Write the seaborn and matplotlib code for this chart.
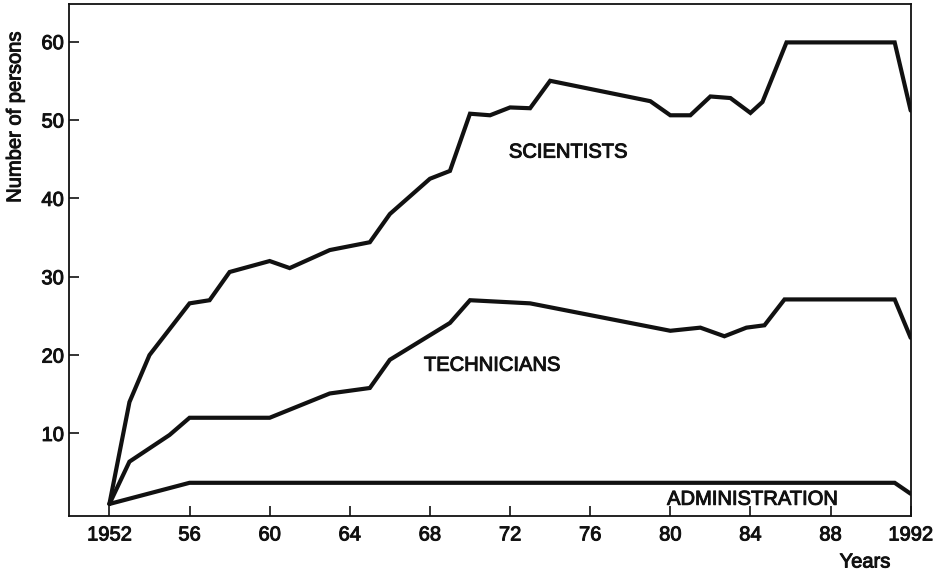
import pandas as pd
import matplotlib
matplotlib.use("Agg")
from matplotlib import pyplot as plt
from matplotlib import patheffects as pe
import seaborn as sns

# --- data ---
sci_years = [1952, 1953, 1954, 1956, 1957, 1958, 1960, 1961, 1963, 1965, 1966, 1968, 1969,
             1970, 1971, 1972, 1973, 1974, 1979, 1980, 1981, 1982, 1983, 1984, 1984.6, 1985.8,
             1991.2, 1992]
sci_values = [1, 14, 20, 26.6, 27, 30.6, 32, 31.1, 33.4, 34.4, 38, 42.5, 43.5,
              50.8, 50.6, 51.6, 51.5, 55, 52.4, 50.6, 50.6, 53, 52.8, 50.9, 52.3, 59.9,
              59.9, 51.2]

tech_years = [1952, 1953, 1955, 1956, 1960, 1963, 1965, 1966, 1969, 1970, 1973, 1980,
              1981.5, 1982.7, 1983.8, 1984.7, 1985.7, 1991.2, 1992]
tech_values = [1, 6.4, 9.8, 12, 12, 15.1, 15.8, 19.4, 24.1, 27, 26.6, 23.1,
               23.5, 22.4, 23.5, 23.8, 27.1, 27.1, 22.2]

adm_years = [1952, 1956, 1991.2, 1992]
adm_values = [1, 3.7, 3.7, 2.3]

tick_years = [1952, 1956, 1960, 1964, 1968, 1972, 1976, 1980, 1984, 1988, 1992]
tick_labels = ["1952", "56", "60", "64", "68", "72", "76", "80", "84", "88", "1992"]
y_ticks = [10, 20, 30, 40, 50, 60]

df = pd.concat([
    pd.DataFrame({"year": sci_years, "persons": sci_values, "group": "SCIENTISTS"}),
    pd.DataFrame({"year": tech_years, "persons": tech_values, "group": "TECHNICIANS"}),
    pd.DataFrame({"year": adm_years, "persons": adm_values, "group": "ADMINISTRATION"}),
])

sns.set_style("ticks")
plt.rcParams["font.family"] = ["Liberation Sans", "DejaVu Sans"]

ink = "#111111"
heavy = [pe.withStroke(linewidth=0.7, foreground=ink)]
fs = 14.5

fig = plt.figure(figsize=(9.41, 5.72), dpi=100)
ax = fig.add_axes([0.0737, 0.0984, 0.8941, 0.8946])

sns.lineplot(data=df, x="year", y="persons", hue="group", units="group", estimator=None,
             sort=False, palette=[ink] * 3, linewidth=3.0, legend=False, ax=ax)
for line in ax.lines:
    line.set_solid_joinstyle("miter")

ax.set_xlim(1950, 1992)
ax.set_ylim(-0.5, 64.8)
ax.set_xticks(tick_years)
ax.set_xticklabels(tick_labels)
ax.set_yticks(y_ticks)
ax.tick_params(direction="in", length=7, width=1.2, labelsize=fs, colors=ink)
ax.tick_params(axis="x", pad=7)
ax.tick_params(axis="y", pad=4)
for lab in ax.get_xticklabels() + ax.get_yticklabels():
    lab.set_path_effects(heavy)

for side in ["left", "right", "top", "bottom"]:
    ax.spines[side].set_visible(True)
    ax.spines[side].set_linewidth(1.3)
    ax.spines[side].set_color(ink)

ax.set_xlabel("")
ax.set_ylabel("")
fig.text(15 / 941, 1 - 117 / 572, "Number of persons", rotation=90, fontsize=fs,
         color=ink, ha="center", va="center", path_effects=heavy)
fig.text(865 / 941, 1 - 562 / 572, "Years", fontsize=fs, color=ink,
         ha="center", va="center", path_effects=heavy)

ax.text(1974.9, 45.9, "SCIENTISTS", fontsize=fs, ha="center", va="center", color=ink,
        path_effects=heavy)
ax.text(1971.1, 18.7, "TECHNICIANS", fontsize=fs, ha="center", va="center", color=ink,
        path_effects=heavy)
ax.text(1984.1, 1.6, "ADMINISTRATION", fontsize=fs, ha="center", va="center", color=ink,
        path_effects=heavy)

fig.savefig("out.png", dpi=100)
